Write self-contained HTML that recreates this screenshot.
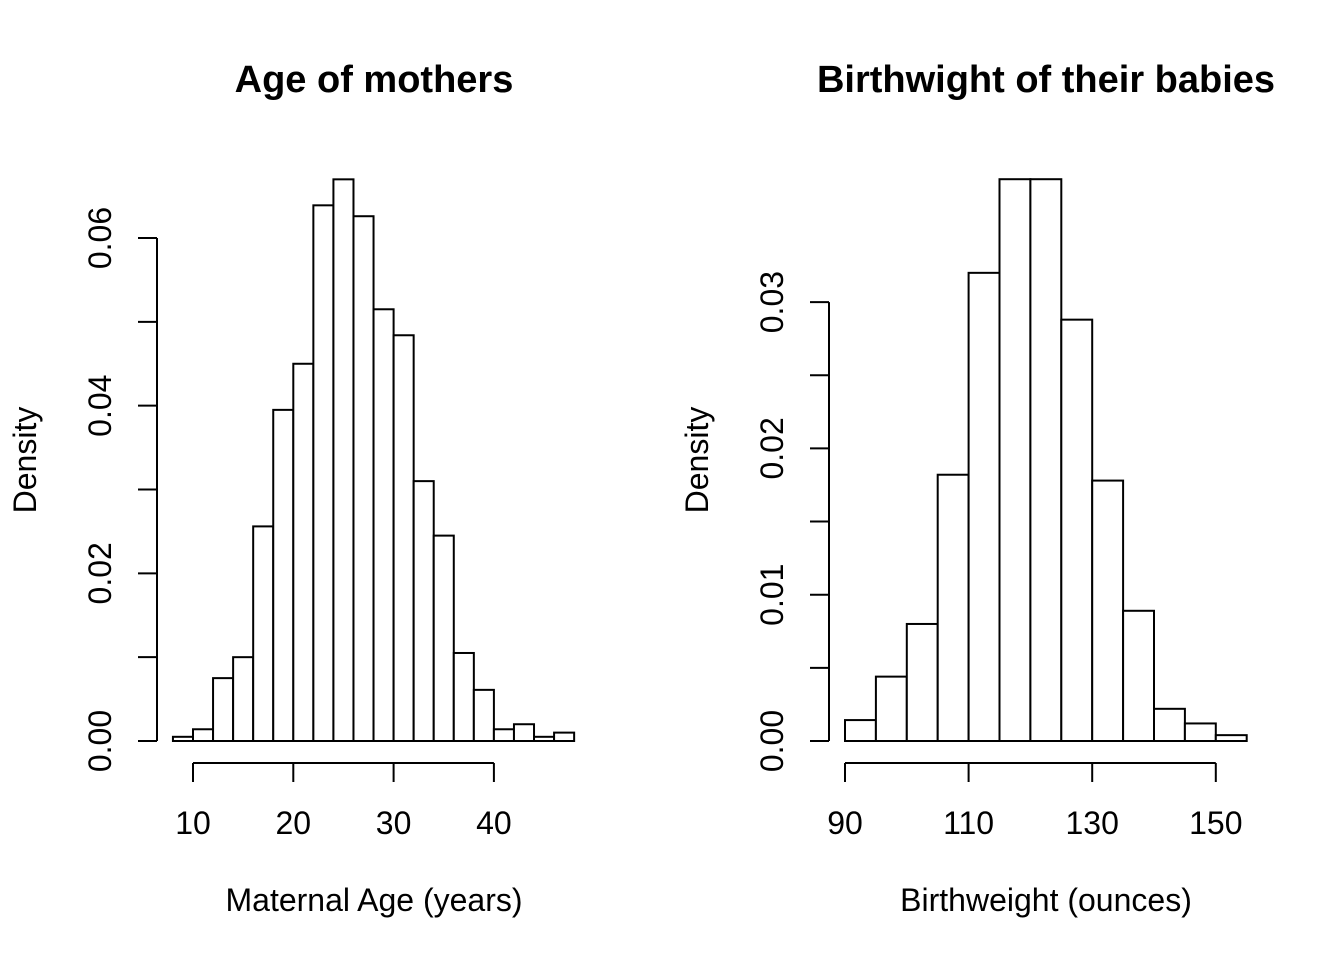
<!DOCTYPE html>
<html><head><meta charset="utf-8"><style>
html,body{margin:0;padding:0;background:#fff}
svg text{font-family:"Liberation Sans",Arial,sans-serif;fill:#000}
</style></head><body>
<svg id="c" width="1344" height="960" viewBox="0 0 1344 960"></svg>
<script>
const ageBreaks=[8,10,12,14,16,18,20,22,24,26,28,30,32,34,36,38,40,42,44,46,48];
const ageDensity=[0.0005,0.0014,0.0075,0.010,0.0256,0.0395,0.045,0.0639,0.067,0.0626,0.0515,0.0484,0.031,0.0245,0.0105,0.0061,0.0014,0.002,0.0005,0.001];
const ageXTicks=[10,20,30,40];
const ageYTicks=[0,0.01,0.02,0.03,0.04,0.05,0.06];
const ageYLabels=["0.00","","0.02","","0.04","","0.06"];
const bwBreaks=[90,95,100,105,110,115,120,125,130,135,140,145,150,155];
const bwDensity=[0.00143,0.0044,0.008,0.0182,0.032,0.0384,0.0384,0.0288,0.0178,0.0089,0.0022,0.0012,0.0004];
const bwXTicks=[90,110,130,150];
const bwYTicks=[0,0.005,0.01,0.015,0.02,0.025,0.03];
const bwYLabels=["0.00","","0.01","","0.02","","0.03"];

const svg=document.getElementById('c');
const NS='http://www.w3.org/2000/svg';
function el(tag,attrs,parent){const e=document.createElementNS(NS,tag);for(const k in attrs)e.setAttribute(k,attrs[k]);(parent||svg).appendChild(e);return e;}

function panel(o){
  const g=el('g',{});
  
  
  const sx=v=>o.x0px+(v-o.x0)*o.xs;
  const sy=v=>o.y0px-v*o.ys;
  for(let i=0;i<o.dens.length;i++){
    const x1=sx(o.breaks[i]),x2=sx(o.breaks[i+1]),y=sy(o.dens[i]);
    const r=el('rect',{x:x1,y:y,width:x2-x1,height:o.y0px-y,fill:'#fff',stroke:'#000','stroke-width':2},g);
    
    
  }
  const xa=el('g',{},g);
  
  
  const xt=o.xticks;
  el('line',{x1:sx(xt[0]),x2:sx(xt[xt.length-1]),y1:763,y2:763,stroke:'#000','stroke-width':2},xa);
  xt.forEach(t=>{
    el('line',{x1:sx(t),x2:sx(t),y1:763,y2:782,stroke:'#000','stroke-width':2},xa);
    const tx=el('text',{x:sx(t),y:834,'text-anchor':'middle','font-size':32},xa);
    tx.textContent=t;
    
    
  });
  const ya=el('g',{},g);
  
  
  const yt=o.yticks;
  el('line',{x1:o.axX,x2:o.axX,y1:sy(yt[0]),y2:sy(yt[yt.length-1]),stroke:'#000','stroke-width':2},ya);
  yt.forEach((t,i)=>{
    el('line',{x1:o.axX,x2:o.axX-19,y1:sy(t),y2:sy(t),stroke:'#000','stroke-width':2},ya);
    if(o.ylabels[i]){
      const tx=el('text',{x:0,y:0,'text-anchor':'middle','font-size':32,transform:`translate(${o.axX-46},${sy(t)}) rotate(-90)`},ya);
      tx.textContent=o.ylabels[i];
      
      
    }
  });
  const ttl=el('text',{x:o.cx,y:92,'text-anchor':'middle','font-size':38,'font-weight':'bold'},g);
  ttl.textContent=o.title;
  
  
  const xl=el('text',{x:o.cx,y:911,'text-anchor':'middle','font-size':32},g);
  xl.textContent=o.xlab;
  
  
  const yl=el('text',{x:0,y:0,'text-anchor':'middle','font-size':32,transform:`translate(${o.axX-121},460) rotate(-90)`},g);
  yl.textContent='Density';
  
  
}
panel({name:'maternal-age-histogram',breaks:ageBreaks,dens:ageDensity,xticks:ageXTicks,yticks:ageYTicks,ylabels:ageYLabels,
  x0:10,x0px:193,xs:10.03,y0px:741,ys:8383,axX:157,cx:374,title:'Age of mothers',xlab:'Maternal Age (years)'});
panel({name:'birthweight-histogram',breaks:bwBreaks,dens:bwDensity,xticks:bwXTicks,yticks:bwYTicks,ylabels:bwYLabels,
  x0:90,x0px:845,xs:6.18,y0px:741,ys:14630,axX:829,cx:1046,title:'Birthwight of their babies',xlab:'Birthweight (ounces)'});
</script>
</body></html>
